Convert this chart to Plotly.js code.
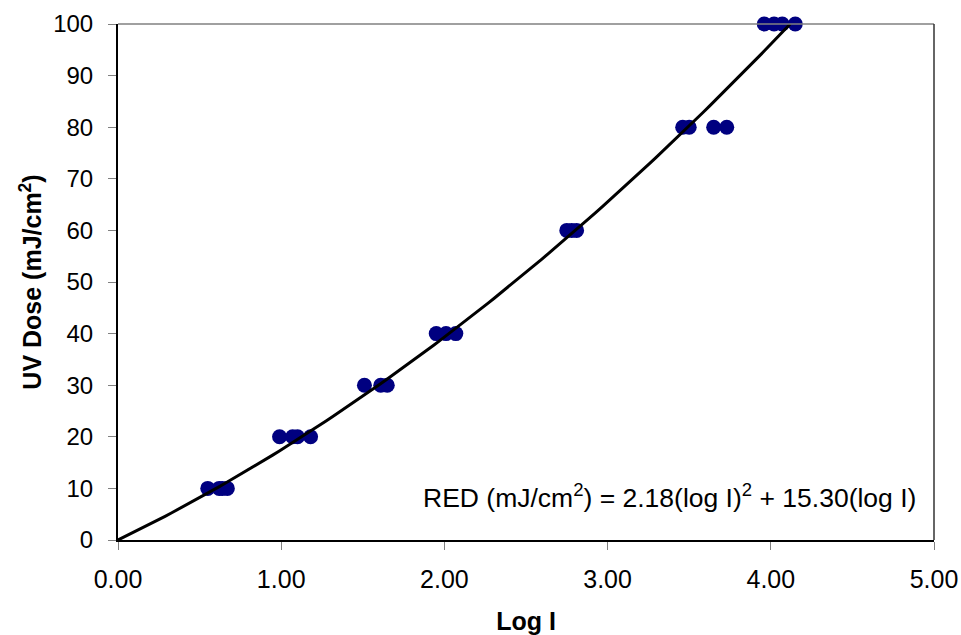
<!DOCTYPE html>
<html>
<head>
<meta charset="utf-8">
<script src="https://cdn.plot.ly/plotly-3.0.1.min.js"></script>
<style>html,body{margin:0;padding:0;background:#fff;}#chart{width:961px;height:635px;}</style>
</head>
<body>
<div id="chart"></div>
<script>
// Observed data: log inactivation (Log I) vs UV dose (mJ/cm2)
const logI = [0.55, 0.62, 0.64, 0.67,
              0.99, 1.07, 1.10, 1.18,
              1.51, 1.61, 1.65,
              1.95, 2.01, 2.07,
              2.75, 2.78, 2.81,
              3.46, 3.50, 3.65, 3.73,
              3.96, 4.02, 4.07, 4.15];
const uvDose = [10, 10, 10, 10,
                20, 20, 20, 20,
                30, 30, 30,
                40, 40, 40,
                60, 60, 60,
                80, 80, 80, 80,
                100, 100, 100, 100];

// Fitted trendline coefficients shown on the chart: RED = a*(log I)^2 + b*(log I)
const fitA = 2.18;
const fitB = 15.30;
const fitMaxLogI = 4.12;

const xTicks = [0, 1, 2, 3, 4, 5];
const xTickText = ['0.00', '1.00', '2.00', '3.00', '4.00', '5.00'];
const yTicks = [0, 10, 20, 30, 40, 50, 60, 70, 80, 90, 100];

const fitX = [];
const fitY = [];
for (let i = 0; i <= 100; i++) {
  const x = fitMaxLogI * i / 100;
  fitX.push(x);
  fitY.push(fitA * x * x + fitB * x);
}

const font = 'Liberation Sans, Arial, sans-serif';

const traces = [
  {x: logI, y: uvDose, type: 'scatter', mode: 'markers',
   marker: {color: '#000080', size: 15, line: {width: 0}}, showlegend: false, cliponaxis: false},
  {x: fitX, y: fitY, type: 'scatter', mode: 'lines',
   line: {color: '#000000', width: 3}, showlegend: false, cliponaxis: false}
];

const layout = {
  width: 961, height: 635,
  margin: {l: 118, r: 27, t: 24, b: 95},
  paper_bgcolor: '#ffffff', plot_bgcolor: '#ffffff',
  font: {family: font, size: 24, color: '#000'},
  showlegend: false,
  xaxis: {
    range: [0, 5], tickvals: xTicks, ticktext: xTickText,
    showgrid: false, zeroline: false,
    showline: true, linecolor: '#000', linewidth: 2,
    ticks: 'outside', ticklen: 8, tickcolor: '#808080', tickwidth: 1,
    ticklabelstandoff: 8,
    tickfont: {family: font, size: 25, color: '#000'},
    title: {text: '<b>Log I</b>', font: {family: font, size: 25, color: '#000'}, standoff: 20}
  },
  yaxis: {
    range: [0, 100], tickvals: yTicks,
    showgrid: false, zeroline: false,
    showline: true, linecolor: '#000', linewidth: 2,
    ticks: 'outside', ticklen: 8, tickcolor: '#808080', tickwidth: 1,
    ticklabelstandoff: 10,
    tickfont: {family: font, size: 24, color: '#000'},
    title: {text: '<b>UV Dose (mJ/cm<sup>2</sup>)</b>', font: {family: font, size: 25, color: '#000'}, standoff: 4}
  },
  shapes: [
    {type: 'line', xref: 'paper', yref: 'paper', x0: 0, x1: 1, y0: 1, y1: 1, line: {color: '#808080', width: 1.5}},
    {type: 'line', xref: 'paper', yref: 'paper', x0: 1, x1: 1, y0: 0, y1: 1, line: {color: '#333333', width: 1.5}}
  ],
  annotations: [
    {xref: 'paper', yref: 'paper', x: 0.98, y: 0.085, xanchor: 'right', yanchor: 'middle',
     showarrow: false, text: 'RED (mJ/cm<sup>2</sup>) = 2.18(log I)<sup>2</sup> + 15.30(log I)',
     font: {family: font, size: 26.5, color: '#000'}}
  ]
};

Plotly.newPlot('chart', traces, layout, {displayModeBar: false, staticPlot: true});
</script>
</body>
</html>
